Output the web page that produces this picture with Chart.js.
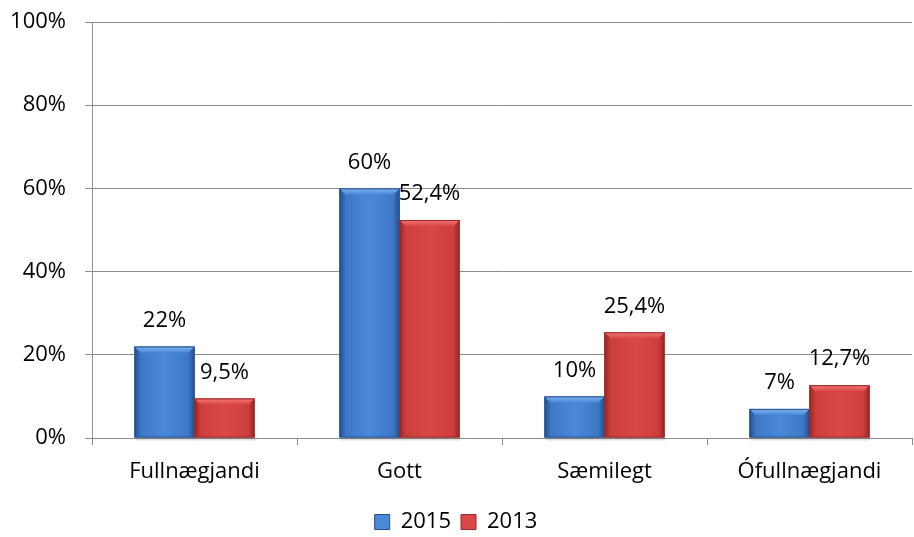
<!DOCTYPE html>
<html>
<head>
<meta charset="utf-8">
<script src="https://cdn.jsdelivr.net/npm/chart.js@4"></script>
<style>
  html, body { margin: 0; padding: 0; background: #fff; }
  #wrap { width: 914px; height: 537px; position: relative; }
</style>
</head>
<body>
<div id="wrap"><canvas id="grafica"></canvas></div>
<script>
const flokkar = ['Fullnægjandi', 'Gott', 'Sæmilegt', 'Ófullnægjandi'];
const gildi2015 = [22, 60, 10, 7];
const gildi2013 = [9.5, 52.4, 25.4, 12.7];
const yTikk = [0, 20, 40, 60, 80, 100];

const letur = "'Open Sans', sans-serif";
const leturStaerd = 22;

// litir: [adal, dokkur kantur, ljos toppur, ljos midja]
const bla = ['#3a74c2', '#24508c', '#80b4f2', '#4a88d8'];
const raudur = ['#c93c3a', '#962827', '#f47876', '#d94846'];

function sniðTala(v) {
    return String(v).replace('.', ',') + '%';
}

// teiknar "bevel" a sulurnar og gildin fyrir ofan
const skrautPlugin = {
    id: 'skraut',
    afterDatasetsDraw(chart) {
        const ctx = chart.ctx;
        chart.data.datasets.forEach((ds, i) => {
            const meta = chart.getDatasetMeta(i);
            const lit = ds.litir;
            meta.data.forEach((bar, j) => {
                const l = bar.x - bar.width / 2;
                const r = bar.x + bar.width / 2;
                const t = bar.y;
                const b = bar.base;
                const h = b - t;
                const e = Math.min(6, h / 2);
                ctx.save();
                // skuggi
                ctx.fillStyle = 'rgba(0,0,0,0.12)';
                ctx.fillRect(l + 1, b, bar.width, 3);
                // midja
                var g = ctx.createLinearGradient(l, 0, r, 0);
                g.addColorStop(0, lit[0]);
                g.addColorStop(0.5, lit[3]);
                g.addColorStop(1, lit[0]);
                ctx.fillStyle = g;
                ctx.fillRect(l, t, bar.width, h);
                // vinstri kantur
                g = ctx.createLinearGradient(l, 0, l + e, 0);
                g.addColorStop(0, lit[1]);
                g.addColorStop(1, lit[0]);
                ctx.fillStyle = g;
                ctx.beginPath();
                ctx.moveTo(l, t); ctx.lineTo(l + e, t + e); ctx.lineTo(l + e, b - 2); ctx.lineTo(l, b);
                ctx.closePath(); ctx.fill();
                // haegri kantur
                g = ctx.createLinearGradient(r - e, 0, r, 0);
                g.addColorStop(0, lit[0]);
                g.addColorStop(1, lit[1]);
                ctx.fillStyle = g;
                ctx.beginPath();
                ctx.moveTo(r, t); ctx.lineTo(r - e, t + e); ctx.lineTo(r - e, b - 2); ctx.lineTo(r, b);
                ctx.closePath(); ctx.fill();
                // toppur
                g = ctx.createLinearGradient(0, t, 0, t + e);
                g.addColorStop(0, lit[2]);
                g.addColorStop(1, lit[3]);
                ctx.fillStyle = g;
                ctx.beginPath();
                ctx.moveTo(l, t); ctx.lineTo(r, t); ctx.lineTo(r - e, t + e); ctx.lineTo(l + e, t + e);
                ctx.closePath(); ctx.fill();
                ctx.strokeStyle = lit[1];
                ctx.lineWidth = 1;
                ctx.strokeRect(l + 0.5, t + 0.5, bar.width - 1, h - 1);
                ctx.restore();

                ctx.save();
                ctx.fillStyle = '#000';
                ctx.font = leturStaerd + 'px ' + letur;
                ctx.textAlign = 'center';
                ctx.textBaseline = 'middle';
                ctx.fillText(sniðTala(ds.data[j]), bar.x, t - 26);
                ctx.restore();
            });
        });
    }
};

var ctx = document.getElementById('grafica').getContext('2d');
var myChart = new Chart(ctx, {
    type: 'bar',
    data: {
        labels: flokkar,
        datasets: [{
            label: '2015',
            data: gildi2015,
            backgroundColor: bla[0],
            litir: bla,
            borderWidth: 0,
            categoryPercentage: 0.585,
            barPercentage: 1
        }, {
            label: '2013',
            data: gildi2013,
            backgroundColor: raudur[0],
            litir: raudur,
            borderWidth: 0,
            categoryPercentage: 0.585,
            barPercentage: 1
        }]
    },
    options: {
        responsive: true,
        maintainAspectRatio: false,
        animation: false,
        layout: { padding: { top: 22, right: 2, bottom: -6, left: 0 } },
        scales: {
            x: {
                afterFit: function (scale) { scale.height = 63; },
                grid: {
                    drawOnChartArea: false,
                    drawTicks: true,
                    tickLength: 7,
                    color: '#8c8c8c',
                    offset: true
                },
                border: { color: '#8c8c8c', width: 1 },
                ticks: {
                    color: '#000',
                    font: { family: letur, size: leturStaerd },
                    padding: 14
                }
            },
            y: {
                min: 0,
                max: 100,
                afterFit: function (scale) {
                    scale.width = 92;
                    scale.paddingTop = 0;
                    scale.paddingBottom = 0;
                },
                afterBuildTicks: function (scale) {
                    scale.ticks = yTikk.map(function (v) { return { value: v }; });
                },
                grid: {
                    color: '#8c8c8c',
                    tickLength: 7,
                    lineWidth: 1
                },
                border: { color: '#8c8c8c', width: 1 },
                ticks: {
                    color: '#000',
                    font: { family: letur, size: leturStaerd },
                    padding: 19,
                    callback: function (value) { return value + '%'; }
                }
            }
        },
        plugins: {
            legend: {
                display: true,
                position: 'bottom',
                labels: {
                    color: '#000',
                    font: { family: letur, size: leturStaerd },
                    boxWidth: 15,
                    boxHeight: 15,
                    padding: 10,
                    generateLabels: function (chart) {
                        return chart.data.datasets.map(function (ds, i) {
                            return {
                                text: ds.label,
                                fillStyle: ds.litir[3],
                                strokeStyle: ds.litir[1],
                                lineWidth: 1,
                                datasetIndex: i
                            };
                        });
                    }
                }
            },
            tooltip: { enabled: false }
        }
    },
    plugins: [skrautPlugin]
});
</script>
</body>
</html>
